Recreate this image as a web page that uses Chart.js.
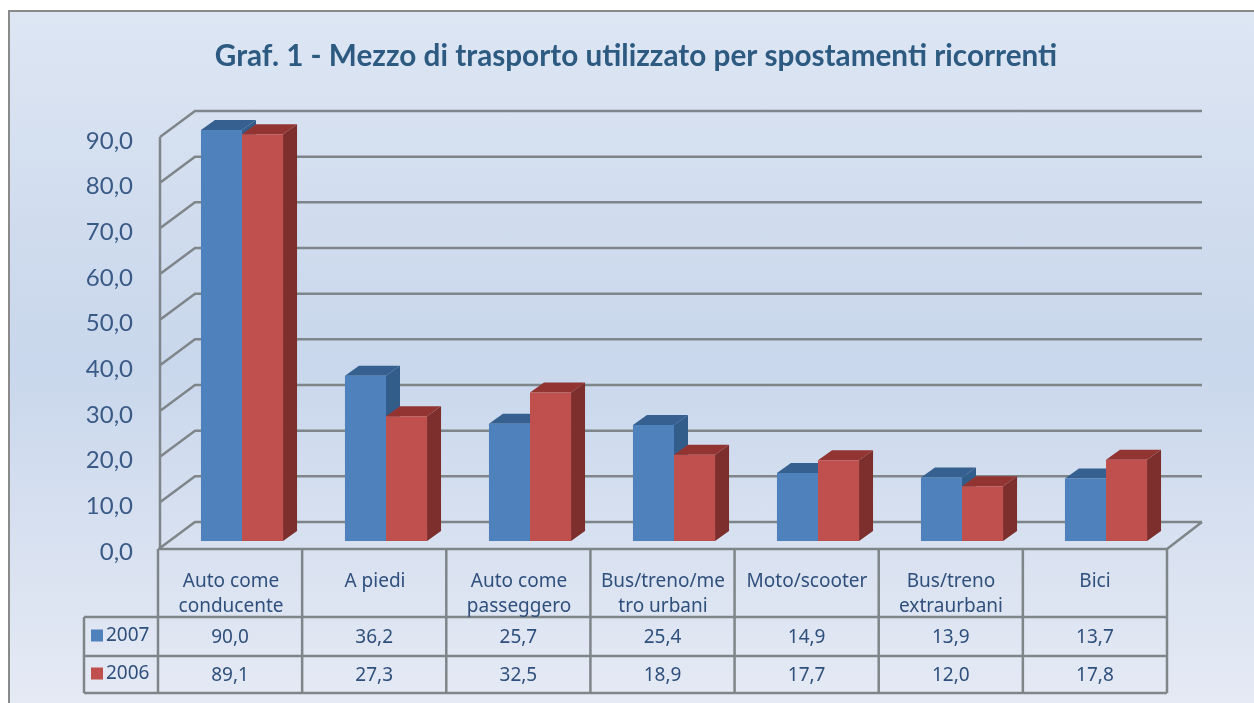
<!DOCTYPE html>
<html>
<head>
<meta charset="utf-8">
<title>Graf. 1</title>
<script src="https://cdn.jsdelivr.net/npm/chart.js@4/dist/chart.umd.min.js"></script>
<style>
  html, body { margin: 0; padding: 0; width: 1254px; height: 703px; overflow: hidden; background: #fff; }
  #frame {
    position: absolute; left: 8px; top: 10px; width: 1260px; height: 710px;
    box-sizing: border-box; border: 2px solid #8a8a8a;
    background: linear-gradient(180deg, #dde6f3 0%, #d0dcee 30%, #c9d7ec 50%, #dbe3f1 80%, #e6ebf5 100%);
  }
  canvas { position: absolute; left: 10px; top: 0; filter: blur(0.4px); }
</style>
</head>
<body>
<div id="frame"></div>
<canvas id="graf" width="1252" height="703"></canvas>
<script>
const categories = [
  ["Auto come", "conducente"],
  "A piedi",
  ["Auto come", "passeggero"],
  ["Bus/treno/me", "tro urbani"],
  "Moto/scooter",
  ["Bus/treno", "extraurbani"],
  "Bici"
];
const years = ["2007", "2006"];
const values2007 = [90.0, 36.2, 25.7, 25.4, 14.9, 13.9, 13.7];
const values2006 = [89.1, 27.3, 32.5, 18.9, 17.7, 12.0, 17.8];
const blue = { front: "#4f81bd", top: "#35608f", side: "#325d8b" };
const red = { front: "#c0504d", top: "#923532", side: "#7c2f2c" };

const textColor = "#3a5a86";
const tableColor = "#2f4f7c";
const lineColor = "#7f8689";
const tableFont = "19px 'Noto Sans'";
const comma = (v) => v.toFixed(1).replace(".", ",");

// the 3d look: walls behind the bars, then a top and side for each bar
const depth = {
  id: "depth",
  beforeDatasetsDraw(chart) {
    const { ctx, scales: { x, y } } = chart;
    ctx.save();
    ctx.strokeStyle = lineColor;
    ctx.lineWidth = 2.5;
    ctx.lineJoin = "round";
    const fx = x.left - 10, bx = x.left + 25;
    ctx.beginPath();
    y.ticks.forEach((t) => {
      const py = y.getPixelForValue(t.value);
      ctx.moveTo(fx, py + 7);
      ctx.lineTo(bx, py - 19);
      ctx.lineTo(x.right + 24, py - 19);
    });
    ctx.moveTo(fx, y.top + 7);
    ctx.lineTo(fx, y.bottom + 7);
    ctx.moveTo(x.right - 11, y.bottom + 8);
    ctx.lineTo(x.right + 24, y.bottom - 19);
    ctx.stroke();

    // chart.js paints the left bar last, so the sides go in first, left to right
    const dx = 14, dy = -10;
    [blue, red].forEach((shade, s) => {
      chart.getDatasetMeta(s).data.forEach((bar) => {
        const l = bar.x - bar.width / 2, r = bar.x + bar.width / 2;
        ctx.fillStyle = shade.side;
        ctx.beginPath();
        ctx.moveTo(r, bar.y);
        ctx.lineTo(r + dx, bar.y + dy);
        ctx.lineTo(r + dx, bar.base + dy);
        ctx.lineTo(r, bar.base);
        ctx.fill();
        ctx.fillStyle = shade.top;
        ctx.beginPath();
        ctx.moveTo(l, bar.y);
        ctx.lineTo(l + dx, bar.y + dy);
        ctx.lineTo(r + dx, bar.y + dy);
        ctx.lineTo(r, bar.y);
        ctx.fill();
      });
    });
    ctx.restore();
  }
};

// data table under the plot, with the legend keys in its first column
const dataTable = {
  id: "dataTable",
  beforeDraw(chart) {
    const { ctx, scales: { x } } = chart;
    const step = x.getPixelForValue(1) - x.getPixelForValue(0);
    const left = x.getPixelForValue(0) - step / 2 - 12;
    const right = x.right - 11;
    const rows = [549, 617, 656, 693];
    const head = 74;
    ctx.save();
    ctx.strokeStyle = lineColor;
    ctx.lineWidth = 2.5;
    ctx.beginPath();
    ctx.moveTo(left, rows[0]);
    ctx.lineTo(right, rows[0]);
    for (let i = 1; i < rows.length; i++) {
      ctx.moveTo(left - head, rows[i]);
      ctx.lineTo(right, rows[i]);
    }
    ctx.moveTo(left - head, rows[1]);
    ctx.lineTo(left - head, rows[3]);
    for (let i = 0; i <= 7; i++) {
      const cx = left + (right - left) * i / 7;
      ctx.moveTo(cx, rows[0]);
      ctx.lineTo(cx, rows[3]);
    }
    ctx.stroke();

    ctx.font = tableFont;
    ctx.textBaseline = "middle";
    [values2007, values2006].forEach((vals, s) => {
      const cy = (rows[s + 1] + rows[s + 2]) / 2;
      ctx.fillStyle = s === 0 ? blue.front : red.front;
      ctx.fillRect(left - head + 7, cy - 7, 12, 12);
      ctx.fillStyle = tableColor;
      ctx.textAlign = "left";
      ctx.fillText(years[s], left - head + 22, cy - 1);
      ctx.textAlign = "center";
      vals.forEach((v, i) => {
        ctx.fillText(comma(v), left + (right - left) * (i + 0.5) / 7, cy + 1);
      });
    });
    ctx.restore();
  }
};

new Chart(document.getElementById("graf"), {
  type: "bar",
  data: {
    labels: categories,
    datasets: [
      { label: years[0], data: values2007, backgroundColor: blue.front },
      { label: years[1], data: values2006, backgroundColor: red.front }
    ]
  },
  options: {
    responsive: false,
    animation: false,
    devicePixelRatio: 1,
    categoryPercentage: 0.57,
    barPercentage: 1,
    plugins: {
      legend: { display: false },
      tooltip: { enabled: false },
      title: {
        display: true,
        text: "Graf. 1 - Mezzo di trasporto utilizzato per spostamenti ricorrenti",
        color: "#2d5a80",
        font: { family: "Lato", size: 29.7, weight: "bold", lineHeight: 1.2 },
        padding: { top: 39, bottom: 55.4 }
      }
    },
    scales: {
      x: {
        grid: { display: false },
        border: { display: false },
        afterFit(s) { s.height = 162; },
        ticks: {
          color: tableColor,
          font: { family: "Noto Sans", size: 19, lineHeight: 1.32 },
          padding: 20,
          labelOffset: -11,
          maxRotation: 0,
          autoSkip: false
        }
      },
      y: {
        min: 0,
        max: 90,
        grid: { display: false },
        border: { display: false },
        afterFit(s) { s.width = 160; },
        ticks: {
          stepSize: 10,
          color: textColor,
          font: { family: "Lato", size: 24 },
          padding: 29,
          labelOffset: 11,
          callback: (v) => comma(v)
        }
      },
      // empty axis, only keeps the plot short of the right edge
      spacer: {
        position: "right",
        grid: { display: false },
        border: { display: false },
        ticks: { display: false },
        afterFit(s) { s.width = 84; }
      }
    }
  },
  plugins: [depth, dataTable]
});
</script>
</body>
</html>
